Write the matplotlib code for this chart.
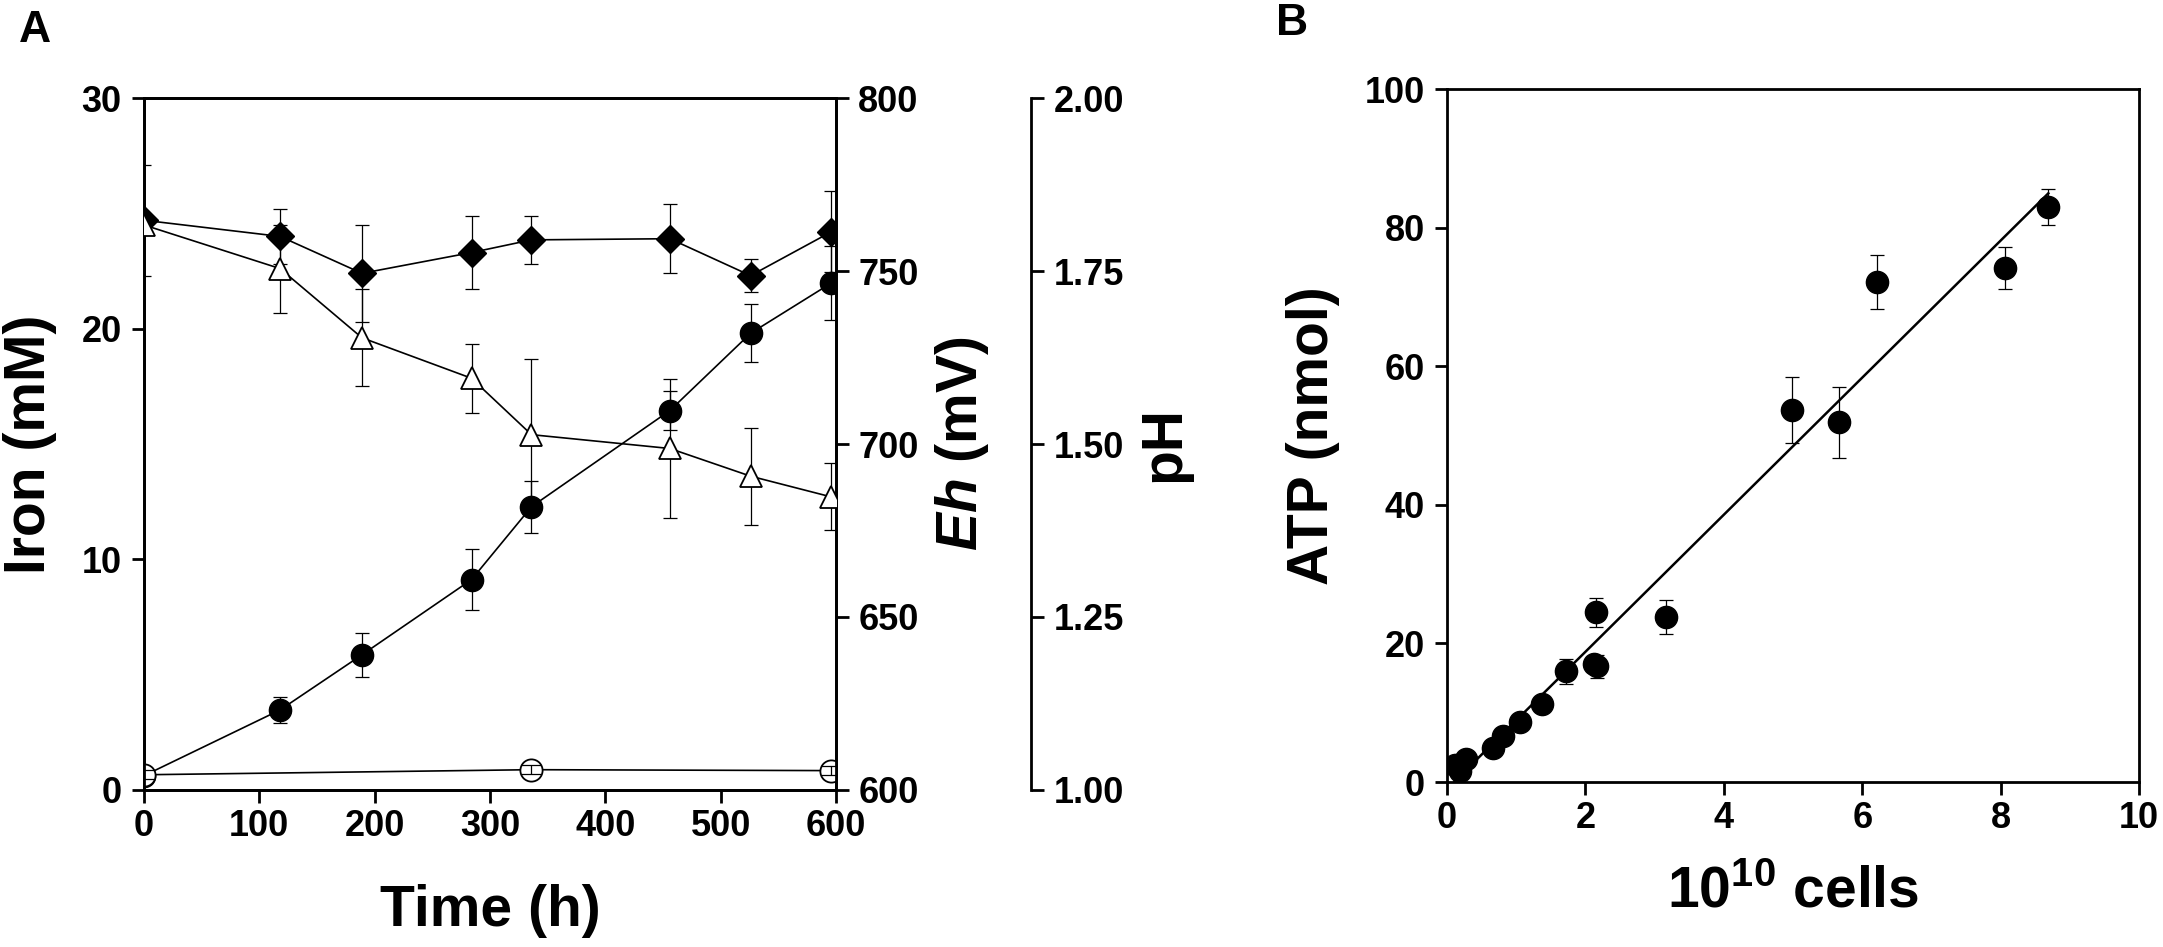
import numpy as np
import matplotlib
matplotlib.use('Agg')
import matplotlib.pyplot as plt

plt.rcParams['font.family'] = ['Liberation Sans', 'DejaVu Sans']
plt.rcParams['font.weight'] = 'bold'
plt.rcParams['axes.labelweight'] = 'bold'
plt.rcParams['mathtext.fontset'] = 'custom'
plt.rcParams['mathtext.rm'] = 'Liberation Sans:bold'
plt.rcParams['mathtext.bf'] = 'Liberation Sans:bold'
plt.rcParams['mathtext.it'] = 'Liberation Sans:bold:italic'

# panel A: time course
time_h = [0, 118, 189, 284, 336, 456, 526, 596]
fe_filled = [0.62, 3.47, 5.86, 9.12, 12.28, 16.45, 19.80, 21.98]
fe_filled_err = [0.2, 0.56, 0.95, 1.32, 1.12, 0.85, 1.26, 1.6]
fe_open_t = [0, 336, 596]
fe_open = [0.66, 0.88, 0.84]
fe_open_err = [0.2, 0.2, 0.2]
fe_total = [24.7, 24.0, 22.4, 23.3, 23.85, 23.9, 22.3, 24.2]
fe_total_err = [2.4, 1.2, 2.1, 1.6, 1.05, 1.5, 0.7, 1.75]
eh_mv = [763.3, 750.7, 730.7, 719.0, 702.7, 698.7, 690.7, 684.7]
eh_err = [2.0, 12.7, 14.0, 10.0, 21.9, 20.0, 14.0, 9.7]

# panel B: ATP vs cells
cells = [0.11, 0.19, 0.27, 0.67, 0.81, 1.06, 1.37, 1.72, 2.12, 2.16, 2.15,
         3.16, 4.99, 5.66, 6.21, 8.07, 8.69]
atp = [2.4, 1.6, 3.3, 4.9, 6.6, 8.7, 11.3, 16.0, 17.1, 16.7, 24.5,
       23.8, 53.7, 51.9, 72.2, 74.2, 83.0]
atp_err = [0.3, 0.3, 0.3, 0.5, 0.5, 0.6, 0.8, 1.8, 1.0, 1.7, 2.1,
           2.5, 4.8, 5.1, 3.9, 3.0, 2.6]

fig = plt.figure(figsize=(21.63, 9.47), dpi=100)

tick_kw = dict(direction='out', length=9, width=2, labelsize=26)
lab = 41

# ---- A ----
ax = fig.add_axes([0.06657, 0.1658, 0.3199, 0.7307])
ax.set_xlim(0, 600)
ax.set_ylim(0, 30)
for s in ax.spines.values():
    s.set_linewidth(2)
ax.tick_params(axis='x', pad=5, **tick_kw)
ax.tick_params(axis='y', pad=7, **tick_kw)
ax.set_xticks(range(0, 601, 100))
ax.set_yticks([0, 10, 20, 30])

ax.errorbar(time_h, fe_filled, yerr=fe_filled_err, fmt='none', ecolor='black',
            elinewidth=0.9, capsize=5, capthick=0.9, zorder=2)
ax.plot(time_h, fe_filled, '-o', color='black', ms=16, lw=1.2, zorder=3)
ax.errorbar(time_h, fe_total, yerr=fe_total_err, fmt='none', ecolor='black',
            elinewidth=0.9, capsize=5, capthick=0.9, zorder=2)
ax.plot(time_h, fe_total, '-D', color='black', ms=14, lw=1.2, zorder=3)
ax.plot(fe_open_t, fe_open, '-o', color='black', mfc='white', mec='black',
        mew=1.3, ms=16, lw=1.2, zorder=4)
ax.errorbar(fe_open_t, fe_open, yerr=fe_open_err, fmt='none', ecolor='black',
            elinewidth=0.9, capsize=7, capthick=0.9, zorder=5)

ax.set_xlabel('Time (h)', fontsize=lab)
ax.xaxis.set_label_coords(0.5, -0.136)
ax.set_ylabel('Iron (mM)', fontsize=lab)
ax.yaxis.set_label_coords(-0.126, 0.5)

ax2 = ax.twinx()
ax2.set_ylim(600, 800)
ax2.set_yticks(range(600, 801, 50))
ax2.tick_params(axis='y', pad=7, **tick_kw)
for s in ax2.spines.values():
    s.set_linewidth(2)
ax2.errorbar(time_h, eh_mv, yerr=eh_err, fmt='none', ecolor='black',
             elinewidth=0.9, capsize=5, capthick=0.9, zorder=2)
ax2.plot(time_h, eh_mv, '-^', color='black', mfc='white', mec='black',
         mew=1.3, ms=16, lw=1.2, zorder=3)
ax2.set_ylabel(r'$\mathit{Eh}$ (mV)', fontsize=lab)
ax2.yaxis.set_label_coords(1.140, 0.5)

ax3 = ax.twinx()
ax3.set_ylim(1.0, 2.0)
ax3.spines['right'].set_position(('axes', 1.282))
for s in ['top', 'left', 'bottom']:
    ax3.spines[s].set_visible(False)
ax3.spines['right'].set_linewidth(2)
ax3.set_yticks([1.0, 1.25, 1.5, 1.75, 2.0])
ax3.set_yticklabels(['%.2f' % v for v in [1.0, 1.25, 1.5, 1.75, 2.0]])
ax3.tick_params(axis='y', pad=7, **tick_kw)
ax3.set_ylabel('pH', fontsize=lab)
ax3.yaxis.set_label_coords(1.435, 0.5)

# ---- B ----
bx = fig.add_axes([0.6690, 0.1742, 0.3199, 0.7318])
bx.set_xlim(0, 10)
bx.set_ylim(0, 100)
for s in bx.spines.values():
    s.set_linewidth(2)
bx.tick_params(axis='x', pad=5, **tick_kw)
bx.tick_params(axis='y', pad=7, **tick_kw)
bx.set_xticks(range(0, 11, 2))
bx.set_yticks(range(0, 101, 20))

slope, icpt = np.polyfit(cells, atp, 1)
xf = np.array([min(cells), max(cells)])
bx.plot(xf, slope * xf + icpt, color='black', lw=1.8, zorder=2)
bx.errorbar(cells, atp, yerr=atp_err, fmt='o', color='black', ms=16,
            elinewidth=0.9, capsize=5, capthick=0.9, zorder=3)

bx.set_xlabel(r'10$^{10}$ cells', fontsize=lab)
bx.xaxis.set_label_coords(0.5, -0.121)
bx.set_ylabel('ATP (nmol)', fontsize=lab)
bx.yaxis.set_label_coords(-0.155, 0.5)

fig.text(0.0162, 0.968, 'A', fontsize=32, ha='center', va='center')
fig.text(0.5973, 0.9747, 'B', fontsize=32, ha='center', va='center')

fig.savefig('out.png', dpi=100)
